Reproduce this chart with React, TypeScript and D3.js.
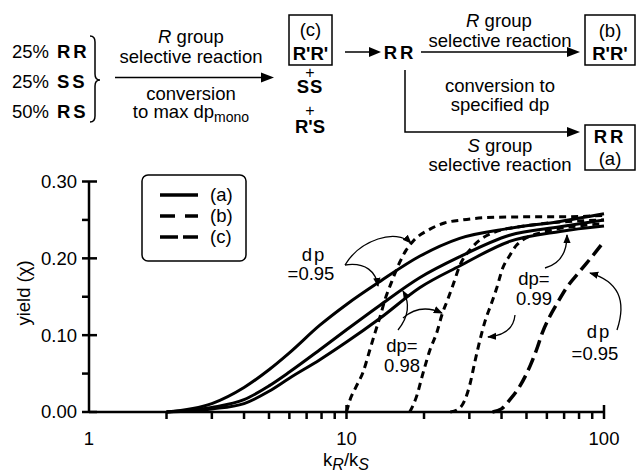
import React from "react";
import * as d3 from "d3";

// ---- data ----
const xTickMajor = [1, 10, 100];
const xTickLabels = ["1", "10", "100"];
const xTickMinor = [2, 3, 4, 5, 6, 7, 8, 9, 20, 30, 40, 50, 60, 70, 80, 90];
const yTickMajor = [0, 0.1, 0.2, 0.3];
const yTickLabels = ["0.00", "0.10", "0.20", "0.30"];
const yTickMinor = [0.05, 0.15, 0.25];

// (a) curves: dp = 0.95, 0.98, 0.99
const aK = [2, 3, 4, 5, 6, 7.88, 10, 13.5, 19.3, 27.5, 43, 67.5, 100];
const a95Y = [0, 0.011, 0.032, 0.055, 0.077, 0.113, 0.14, 0.17, 0.203, 0.226, 0.239, 0.248, 0.258];
const a98Y = [0, 0.006, 0.016, 0.034, 0.052, 0.081, 0.107, 0.139, 0.175, 0.202, 0.23, 0.241, 0.25];
const a99Y = [0, 0.004, 0.011, 0.027, 0.044, 0.068, 0.091, 0.122, 0.162, 0.19, 0.222, 0.235, 0.242];

// (b) curves
const b95K = [10, 10.3, 10.9, 11.6, 12.3, 12.9, 13.5, 14.1, 15, 16.1, 17, 18.1, 21.1, 24, 28.2, 35, 50, 70, 100];
const b95Y = [0, 0.015, 0.033, 0.052, 0.08, 0.103, 0.124, 0.146, 0.17, 0.195, 0.21, 0.222, 0.238, 0.246, 0.25, 0.253, 0.254, 0.254, 0.256];
const b98K = [17.6, 18.7, 19.8, 21.1, 22.4, 23.6, 24.7, 25.9, 27.5, 30.9, 36.9, 51.5, 100];
const b98Y = [0, 0.02, 0.05, 0.081, 0.103, 0.129, 0.146, 0.165, 0.19, 0.215, 0.233, 0.243, 0.25];
const b99K = [25.3, 27.5, 30.1, 31.5, 33, 34.5, 36.6, 38.2, 40.4, 43.1, 45.7, 56.5, 100];
const b99Y = [0, 0.005, 0.035, 0.065, 0.094, 0.118, 0.142, 0.16, 0.187, 0.204, 0.217, 0.233, 0.245];

// (c) curve
const c95K = [36.9, 40, 43.1, 47, 51.5, 54.7, 57.6, 61.5, 65.4, 71.3, 80.5, 90.7, 100];
const c95Y = [0, 0.004, 0.016, 0.033, 0.059, 0.081, 0.103, 0.124, 0.14, 0.161, 0.183, 0.204, 0.222];

const legendLabels = ["(a)", "(b)", "(c)"];

const FONT = "'Liberation Sans', Arial, Helvetica, sans-serif";

export default function App() {
  const x = d3.scaleLog().domain([1, 100]).range([89, 604]);
  const y = d3.scaleLinear().domain([0, 0.3]).range([412, 181.5]);
  const line = d3
    .line<[number, number]>()
    .x((d) => x(d[0]))
    .y((d) => y(d[1]))
    .curve(d3.curveMonotoneX);
  const mk = (ks: number[], vs: number[]) => line(ks.map((k, i) => [k, vs[i]] as [number, number])) || "";

  const series = [
    { d: mk(aK, a95Y), dash: "none", w: 3 },
    { d: mk(aK, a98Y), dash: "none", w: 3 },
    { d: mk(aK, a99Y), dash: "none", w: 3 },
    { d: mk(b95K, b95Y), dash: "7,5", w: 3 },
    { d: mk(b98K, b98Y), dash: "7,5", w: 3 },
    { d: mk(b99K, b99Y), dash: "7,5", w: 3 },
    { d: mk(c95K, c95Y), dash: "13,6", w: 3.5 },
  ];
  const legendDash = ["none", "15,10", "18,5"];

  const fs = 18.5;
  const arrowHead = (x1: number, y1: number, len = 13) => (
    <path d={`M${x1},${y1 - 5} L${x1 + len},${y1} L${x1},${y1 + 5} Z`} fill="#000" />
  );

  return (
    <svg
      width={637}
      height={472}
      style={{ position: "absolute", left: 0, top: 0, background: "#fff" }}
      fontFamily={FONT}
    >
      <defs>
        <marker id="ah" viewBox="0 0 10 10" refX="9" refY="5" markerWidth="7" markerHeight="7" orient="auto">
          <path d="M0,1 L10,5 L0,9 Z" fill="#000" />
        </marker>
      </defs>
      <rect x={0} y={0} width={637} height={472} fill="#fff" />

      {/* ---- reaction scheme ---- */}
      <g fontSize={fs} fill="#000">
        {["25%", "25%", "50%"].map((t, i) => (
          <text key={"p" + i} x={12} y={58 + i * 30}>{t}</text>
        ))}
        {["RR", "SS", "RS"].map((t, i) => (
          <text key={"s" + i} x={57} y={58 + i * 30} fontWeight="bold" letterSpacing={3}>{t}</text>
        ))}
        <path
          d="M90,36 Q95,36 95,42 L95,74 Q95,80 100,80 Q95,80 95,86 L95,116 Q95,122 90,122"
          fill="none"
          stroke="#000"
          strokeWidth={1.5}
        />
        <line x1={115} y1={77.5} x2={262} y2={77.5} stroke="#000" strokeWidth={1.5} />
        {arrowHead(261, 77.5)}
        <text x={191} y={43} textAnchor="middle"><tspan fontStyle="italic">R</tspan>{"  group"}</text>
        <text x={191} y={63} textAnchor="middle">selective reaction</text>
        <text x={191} y={100} textAnchor="middle">conversion</text>
        <text x={191} y={118} textAnchor="middle">
          to max dp<tspan fontSize={14} dy={4}>mono</tspan>
        </text>

        {/* box c */}
        <rect x={289} y={15} width={43} height={50} fill="none" stroke="#000" strokeWidth={1.5} />
        <text x={310.5} y={36} textAnchor="middle">(c)</text>
        <text x={310.5} y={60} textAnchor="middle" fontWeight="bold">R'R'</text>
        <text x={310} y={77.5} textAnchor="middle" fontSize={16}>+</text>
        <text x={310} y={93} textAnchor="middle" fontWeight="bold" letterSpacing={1}>SS</text>
        <text x={310} y={115.5} textAnchor="middle" fontSize={16}>+</text>
        <text x={310} y={133} textAnchor="middle" fontWeight="bold">R'S</text>

        <line x1={345} y1={52} x2={370} y2={52} stroke="#000" strokeWidth={1.5} />
        {arrowHead(369, 52, 12)}
        <text x={400} y={59} textAnchor="middle" fontWeight="bold" letterSpacing={3}>RR</text>

        <line x1={421} y1={52} x2={568} y2={52} stroke="#000" strokeWidth={1.5} />
        {arrowHead(567, 52)}
        <text x={499} y={27} textAnchor="middle"><tspan fontStyle="italic">R</tspan>{"  group"}</text>
        <text x={500} y={47} textAnchor="middle">selective reaction</text>

        <rect x={585} y={15} width={50} height={50} fill="none" stroke="#000" strokeWidth={1.5} />
        <text x={610} y={37} textAnchor="middle">(b)</text>
        <text x={610} y={60} textAnchor="middle" fontWeight="bold">R'R'</text>

        <path d="M405,70 L405,132 L568,132" fill="none" stroke="#000" strokeWidth={1.5} />
        {arrowHead(567, 132)}
        <text x={500} y={92} textAnchor="middle">conversion to</text>
        <text x={500} y={111} textAnchor="middle">specified  dp</text>
        <text x={500} y={152} textAnchor="middle"><tspan fontStyle="italic">S</tspan>{" group"}</text>
        <text x={500} y={171} textAnchor="middle">selective reaction</text>

        <rect x={585} y={125} width={50} height={45} fill="none" stroke="#000" strokeWidth={1.5} />
        <text x={610} y={143} textAnchor="middle" fontWeight="bold" letterSpacing={3}>RR</text>
        <text x={610} y={165} textAnchor="middle">(a)</text>
      </g>

      {/* ---- axes ---- */}
      <g stroke="#000" strokeWidth={2.5} fill="none">
        <line x1={x(1)} y1={y(0.3)} x2={x(1)} y2={y(0)} />
        <line x1={x(1)} y1={y(0)} x2={x(100)} y2={y(0)} />
        {yTickMajor.map((v) => (
          <line key={"ym" + v} x1={x(1) - 7} x2={x(1) + 8} y1={y(v)} y2={y(v)} />
        ))}
        {yTickMinor.map((v) => (
          <line key={"yn" + v} x1={x(1) - 7} x2={x(1)} y1={y(v)} y2={y(v)} />
        ))}
        {xTickMajor.slice(1).map((v) => (
          <line key={"xm" + v} x1={x(v)} x2={x(v)} y1={y(0) - 7} y2={y(0) + 7} />
        ))}
        {xTickMinor.map((v) => (
          <line key={"xn" + v} x1={x(v)} x2={x(v)} y1={y(0)} y2={y(0) + 7} />
        ))}
      </g>
      <g fontSize={fs} fill="#000">
        {yTickMajor.map((v, i) => (
          <text key={"yl" + v} x={77} y={y(v)} dy="0.35em" textAnchor="end">{yTickLabels[i]}</text>
        ))}
        {xTickMajor.map((v, i) => (
          <text key={"xl" + v} x={x(v)} y={445} textAnchor="middle">{xTickLabels[i]}</text>
        ))}
        <text transform="translate(30,293) rotate(-90)" textAnchor="middle">yield (χ)</text>
        <text x={346} y={466} textAnchor="middle">
          k<tspan fontStyle="italic" fontSize={16} dy={4}>R</tspan>
          <tspan dy={-4}>/k</tspan>
          <tspan fontStyle="italic" fontSize={16} dy={4}>S</tspan>
        </text>
      </g>

      {/* ---- curves ---- */}
      <g fill="none" stroke="#000" strokeLinecap="butt">
        {series.map((s, i) => (
          <path key={"c" + i} d={s.d} strokeWidth={s.w} strokeDasharray={s.dash} />
        ))}
      </g>

      {/* ---- legend ---- */}
      <rect x={142} y={175} width={104} height={86} rx={6} fill="#fff" stroke="#000" strokeWidth={1.5} />
      {legendLabels.map((t, i) => (
        <g key={"lg" + i}>
          <line
            x1={160}
            x2={198}
            y1={195 + i * 21}
            y2={195 + i * 21}
            stroke="#000"
            strokeWidth={3.5}
            strokeDasharray={legendDash[i]}
          />
          <text x={210} y={195 + i * 21} dy="0.35em" fontSize={fs}>{t}</text>
        </g>
      ))}

      {/* ---- annotations ---- */}
      <g fontSize={fs} fill="#000" textAnchor="middle">
        <text x={314} y={261} letterSpacing={2}>dp</text>
        <text x={311} y={280}>=0.95</text>
        <text x={402} y={352}>dp=</text>
        <text x={402} y={372}>0.98</text>
        <text x={534} y={285}>dp=</text>
        <text x={534} y={305}>0.99</text>
        <text x={599} y={338} letterSpacing={2}>dp</text>
        <text x={595} y={360}>=0.95</text>
      </g>
      <g fill="none" stroke="#000" strokeWidth={1.3} markerEnd="url(#ah)">
        <path d="M345,265 C360,240 396,228 411,243" />
        <path d="M345,265 C366,262 376,272 378,286" />
        <path d="M398,330 Q414,310 403,291" />
        <path d="M403,318 Q420,303 442,313" />
        <path d="M545,268 Q567,262 567,235" />
        <path d="M515,315 Q513,335 488,337" />
        <path d="M617,330 Q632,285 590,273" />
      </g>
    </svg>
  );
}
